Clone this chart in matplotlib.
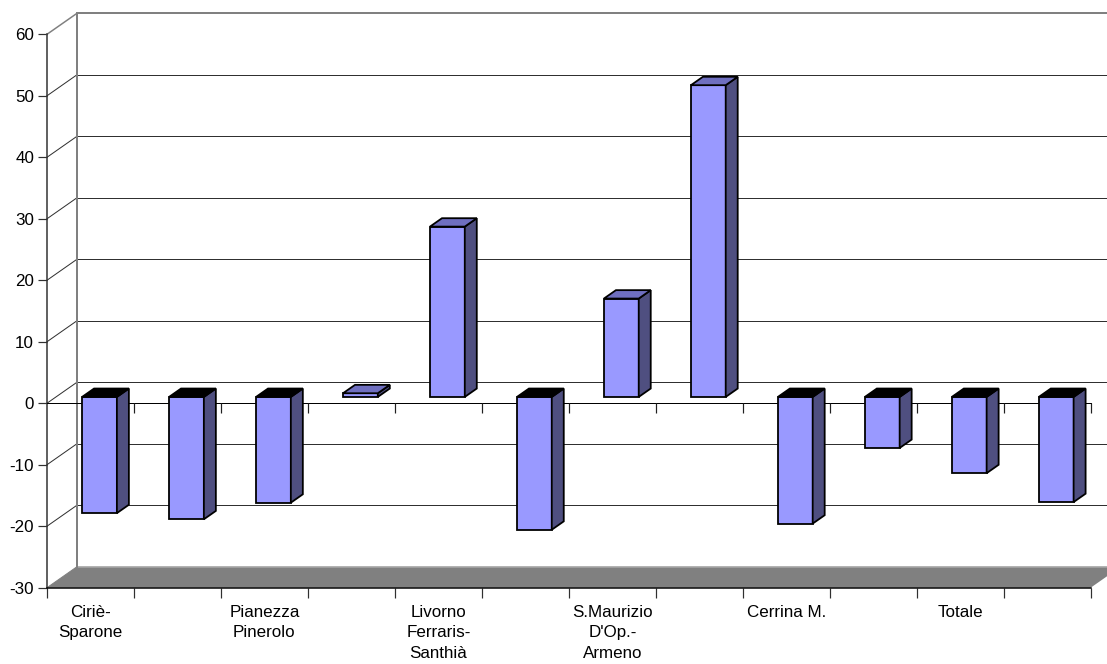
import matplotlib

matplotlib.use("Agg")
import matplotlib.pyplot as plt
from matplotlib.lines import TICKDOWN
from matplotlib.patches import Polygon

plt.rcParams["font.family"] = ["Liberation Sans", "DejaVu Sans"]

CATEGORY_LABELS = [
    "Ciriè-\nSparone", "",
    "Pianezza\nPinerolo", "",
    "Livorno\nFerraris-\nSanthià", "",
    "S.Maurizio\nD'Op.-\nArmeno", "",
    "Cerrina M.", "",
    "Totale", "",
]
VALUES = [-18.9, -19.9, -17.2, 0.6, 27.7, -21.6, 16.0, 50.7, -20.6, -8.3, -12.4, -17.1]
Y_TICKS = [-30, -20, -10, 0, 10, 20, 30, 40, 50, 60]

# depth of the box (back wall offset) in data units
DEPTH_DX = 30 / 87
DEPTH_DY = 21 / 6.149

FACE = "#9999FF"
SIDE = "#4F4F80"
TOP_POS = "#6F6FC0"
TOP_NEG = "#000000"
WALL = "#808080"


def proj(x, v, z):
    return (x + z * DEPTH_DX, v + z * DEPTH_DY)


def quad(ax, pts, color, lw=1.8, ec="black", zorder=5):
    ax.add_patch(Polygon([proj(*p) for p in pts], closed=True, facecolor=color,
                         edgecolor=ec, linewidth=lw, joinstyle="miter",
                         clip_on=False, zorder=zorder))


W, H = 1107, 664
fig = plt.figure(figsize=(W / 72, H / 72), dpi=72)
ax = fig.add_axes([47 / W, (H - 587.7) / H, (1090.7 - 47) / W, (587.7 - 34.3) / H])
n = len(VALUES)
ax.set_xlim(0, n)
ax.set_ylim(Y_TICKS[0], Y_TICKS[-1])

# floor
quad(ax, [(0, -30, 0), (n, -30, 0), (n, -30, 1), (0, -30, 1)], WALL, lw=0, ec="none", zorder=1)
x_back = [proj(0, 0, 1)[0], proj(n + 1, 0, 1)[0]]
ax.plot(x_back, [proj(0, -30, 1)[1]] * 2, color="#A8A8A8", lw=1.5, clip_on=False, zorder=2)

# back wall gridlines and side wall diagonals
for v in Y_TICKS[1:]:
    top = v == Y_TICKS[-1]
    ax.plot(x_back, [proj(0, v, 1)[1]] * 2, color=WALL if top else "#303030",
            lw=2 if top else 1, clip_on=False, zorder=2)
    p0, p1 = proj(0, v, 0), proj(0, v, 1)
    ax.plot([p0[0], p1[0]], [p0[1], p1[1]], color=WALL if top else "#303030",
            lw=1.5 if top else 1, clip_on=False, zorder=2)
b0, b1 = proj(0, -30, 1), proj(0, 60, 1)
ax.plot([b0[0], b1[0]], [b0[1], b1[1]], color=WALL, lw=2, clip_on=False, zorder=2)
f0, f1 = proj(0, -30, 0), proj(0, -30, 1)
ax.plot([f0[0], f1[0]], [f0[1], f1[1]], color=WALL, lw=1, clip_on=False, zorder=2)

# front zero line with category ticks
ax.plot([0, n], [0, 0], color="black", lw=1, clip_on=False, zorder=3)
ax.plot(range(1, n + 1), [0] * n, linestyle="none", marker=TICKDOWN,
        markersize=10, markeredgewidth=1.2, color="#202020", clip_on=False, zorder=3)

# bars
for i, v in enumerate(VALUES):
    x0, x1, z0, z1 = i + 0.3, i + 0.7, 0.3, 0.7
    top = max(v, 0)
    quad(ax, [(x0, 0, z0), (x1, 0, z0), (x1, v, z0), (x0, v, z0)], FACE)
    quad(ax, [(x1, 0, z0), (x1, 0, z1), (x1, v, z1), (x1, v, z0)], SIDE)
    quad(ax, [(x0, top, z0), (x1, top, z0), (x1, top, z1), (x0, top, z1)],
         TOP_POS if v > 0 else TOP_NEG)

# axes
for side in ("top", "right"):
    ax.spines[side].set_visible(False)
ax.spines["left"].set_color("#303030")
ax.spines["left"].set_linewidth(1.5)
ax.spines["bottom"].set_color("black")
ax.spines["bottom"].set_linewidth(1.5)
ax.set_facecolor("none")

ax.set_yticks(Y_TICKS)
ax.set_yticklabels([str(t) for t in Y_TICKS])
ax.tick_params(axis="y", direction="out", length=9, width=1.2, pad=4,
               labelsize=17, colors="#303030", labelcolor="black")
ax.set_xticks(range(0, n + 1))
ax.set_xticklabels([])
ax.set_xticks([i + 0.5 for i in range(n)], minor=True)
ax.set_xticklabels(CATEGORY_LABELS, minor=True, fontsize=17, linespacing=1.45)
ax.tick_params(axis="x", which="major", direction="out", length=10, width=1.2, colors="#303030")
ax.tick_params(axis="x", which="minor", length=0, pad=17)

fig.savefig("out.png", dpi=72)
